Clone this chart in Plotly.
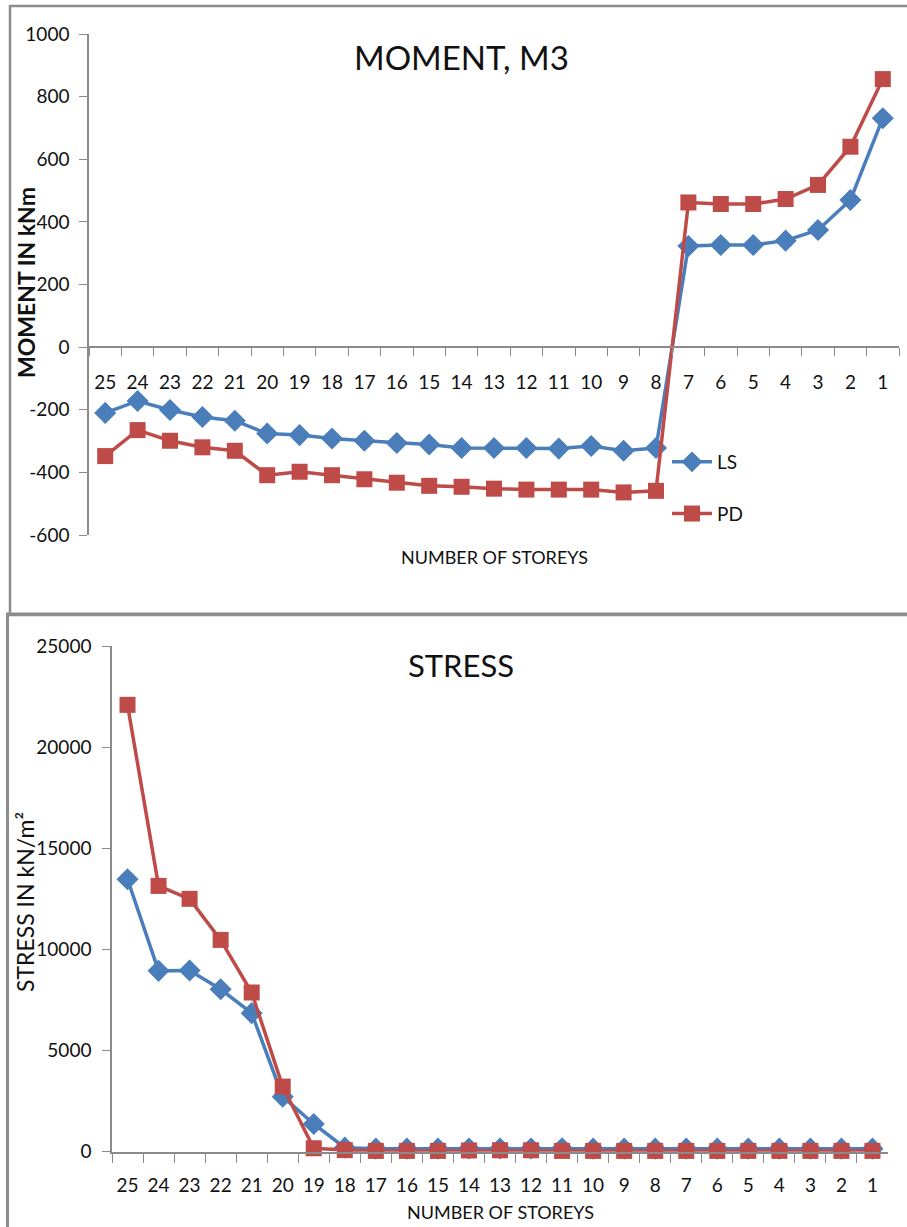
import plotly.graph_objects as go

# Storey labels, top storey first
storeys = [str(n) for n in range(25, 0, -1)]

# Column moment M3 (kNm) per storey
moment_ls = [-210, -172, -201, -223, -235, -276, -281, -292, -299, -306, -311, -322, -322,
             -322, -324, -316, -331, -322, 323, 326, 326, 340, 374, 470, 731]
moment_pd = [-348, -265, -299, -320, -331, -409, -398, -409, -422, -433, -443, -446, -452,
             -455, -455, -455, -464, -459, 462, 457, 457, 473, 518, 640, 856]

# Stress (kN/m2) per storey
stress_ls = [13470, 8940, 8960, 8030, 6850, 2720, 1370, 200, 150, 150, 150, 160, 160,
             160, 170, 150, 150, 150, 150, 150, 150, 150, 150, 150, 150]
stress_pd = [22090, 13140, 12500, 10470, 7870, 3220, 170, 80, 40, 40, 40, 60, 70,
             70, 40, 40, 40, 40, 40, 40, 40, 40, 40, 40, 40]

# Value-axis tick positions and their labels
moment_ticks = [-600, -400, -200, 0, 200, 400, 600, 800, 1000]
moment_tick_text = ["-600", "-400", "-200", "0", "200", "400", "600", "800", "1000"]
stress_ticks = [0, 5000, 10000, 15000, 20000, 25000]
stress_tick_text = ["0", "5000", "10000", "15000", "20000", "25000"]

W, H = 907, 1227
BLUE = "#4A7EBB"
RED = "#BE4B48"
AXIS = "#8a8a8a"
FRAME = "#8c8c8c"
FONT = "Lato, Noto Sans, sans-serif"
TXT = "#111111"


def fx(px):
    return px / W


def fy(py):
    return 1 - py / H


fig = go.Figure()

line_kw = dict(width=3.5)
ls_marker = dict(symbol="diamond", size=17, color=BLUE)
pd_marker = dict(symbol="square", size=16, color=RED)

fig.add_trace(go.Scatter(x=storeys, y=moment_ls, name="LS", mode="lines+markers",
                         line=dict(color=BLUE, **line_kw), marker=ls_marker,
                         legendgroup="ls", xaxis="x", yaxis="y", cliponaxis=False))
fig.add_trace(go.Scatter(x=storeys, y=moment_pd, name="PD", mode="lines+markers",
                         line=dict(color=RED, **line_kw), marker=pd_marker,
                         legendgroup="pd", xaxis="x", yaxis="y", cliponaxis=False))
fig.add_trace(go.Scatter(x=storeys, y=stress_ls, name="LS", mode="lines+markers",
                         line=dict(color=BLUE, **line_kw), marker=ls_marker,
                         showlegend=False, xaxis="x2", yaxis="y2", cliponaxis=False))
fig.add_trace(go.Scatter(x=storeys, y=stress_pd, name="PD", mode="lines+markers",
                         line=dict(color=RED, **line_kw), marker=pd_marker,
                         showlegend=False, xaxis="x2", yaxis="y2", cliponaxis=False))

tick_font = dict(family=FONT, size=19, color=TXT)
cat_axis = dict(type="category", categoryorder="array", categoryarray=storeys,
                range=[-0.5, 24.5], tickson="boundaries", ticks="outside",
                tickcolor=AXIS, showline=True, linecolor=AXIS, linewidth=1.5,
                showgrid=False, zeroline=False, tickfont=tick_font, tickangle=0,
                automargin=False)
val_axis = dict(ticks="outside", ticklen=8, tickcolor=AXIS, showline=True, linecolor=AXIS,
                linewidth=1.5, showgrid=False, zeroline=False, tickfont=tick_font,
                tickmode="array", automargin=False)

# Top panel: category axis crosses the value axis at zero
top_y0, top_y1 = fy(535), fy(34)
zero_pos = top_y0 + (0 - (-600)) / 1600 * (top_y1 - top_y0)
fig.update_layout(
    xaxis=dict(domain=[fx(89), fx(899)], anchor="free", position=zero_pos,
               ticklen=8, ticklabelstandoff=18, **cat_axis),
    yaxis=dict(domain=[top_y0, top_y1], anchor="x", range=[-600, 1000],
               tickvals=moment_ticks, ticktext=moment_tick_text,
               ticklabelstandoff=6, **val_axis),
    xaxis2=dict(domain=[fx(112), fx(888)], anchor="y2",
                ticklen=10, ticklabelstandoff=16, **cat_axis),
    yaxis2=dict(domain=[fy(1151.7), fy(646)], anchor="x2", range=[0, 25000],
                tickvals=stress_ticks, ticktext=stress_tick_text,
                ticklabelstandoff=7, **val_axis),
)

annotations = [
    dict(text="MOMENT, M3", x=fx(461), y=fy(57), font=dict(family=FONT, size=33, color=TXT)),
    dict(text="STRESS", x=fx(461), y=fy(665), font=dict(family=FONT, size=31, color=TXT)),
    dict(text="NUMBER OF STOREYS", x=fx(494), y=fy(557), font=dict(family=FONT, size=18, color=TXT)),
    dict(text="NUMBER OF STOREYS", x=fx(500), y=fy(1212), font=dict(family=FONT, size=18, color=TXT)),
    dict(text="<b>MOMENT IN kNm</b>", x=fx(26), y=fy(283), textangle=-90,
         font=dict(family=FONT, size=23, color=TXT)),
    dict(text="STRESS IN kN/m²", x=fx(25), y=fy(902), textangle=-90,
         font=dict(family=FONT, size=23, color=TXT)),
]
for a in annotations:
    a.update(xref="paper", yref="paper", showarrow=False, xanchor="center", yanchor="middle")

shapes = [
    dict(type="rect", xref="paper", yref="paper", x0=fx(10), x1=1.05, y0=fy(615), y1=fy(6),
         line=dict(color=FRAME, width=2.5)),
    dict(type="rect", xref="paper", yref="paper", x0=fx(7.5), x1=1.05, y0=-0.05, y1=fy(614),
         line=dict(color=FRAME, width=3)),
]

fig.update_layout(
    width=W, height=H, margin=dict(l=0, r=0, t=0, b=0),
    paper_bgcolor="white", plot_bgcolor="white",
    annotations=annotations, shapes=shapes,
    showlegend=True,
    legend=dict(x=fx(667), y=fy(443), xanchor="left", yanchor="top",
                font=dict(family=FONT, size=19, color=TXT),
                bgcolor="rgba(0,0,0,0)", tracegroupgap=24, itemwidth=40),
)

fig.write_html("out.html")
